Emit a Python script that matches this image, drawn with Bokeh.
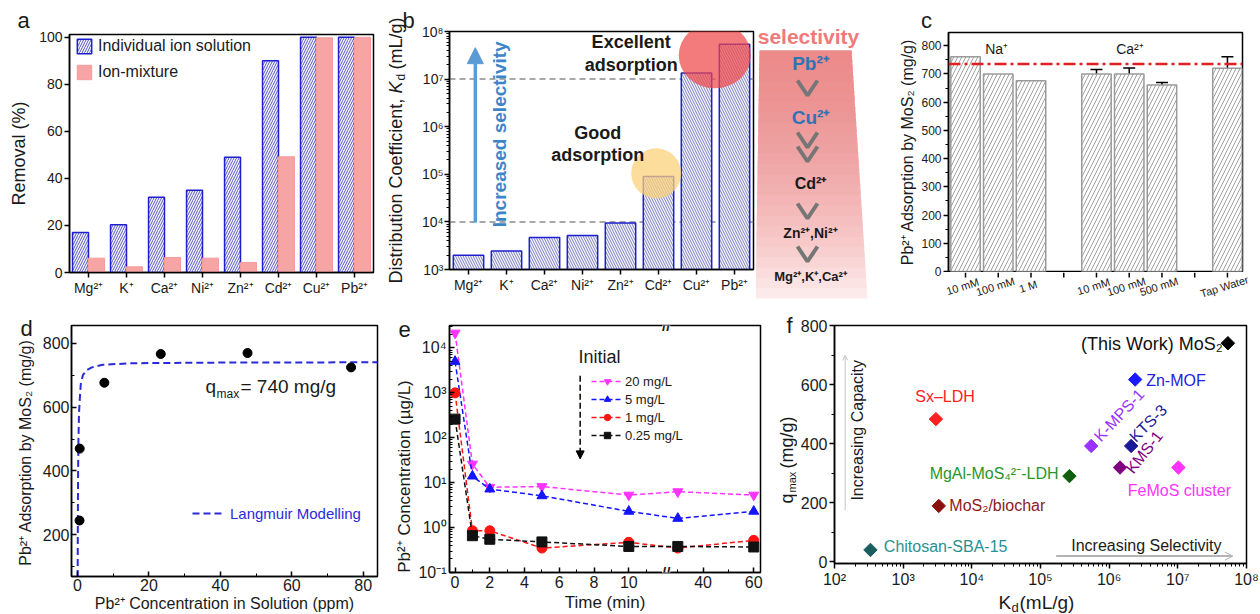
import math
from bokeh.plotting import figure
from bokeh.layouts import row, column
from bokeh.models import (ColumnDataSource, FactorRange, Range1d, FixedTicker, Legend,
                          LegendItem, Label, Span, Arrow, NormalHead, OpenHead,
                          Whisker, TeeHead)
from bokeh.transform import dodge
from bokeh.core.properties import value
from bokeh.embed import file_html
from bokeh.resources import INLINE

FONT = "Liberation Sans"
INK = "#1a1a1a"

# ===================== DATA =====================
# (a) removal efficiency
ions = ["Mg²⁺", "K⁺", "Ca²⁺", "Ni²⁺", "Zn²⁺", "Cd²⁺", "Cu²⁺", "Pb²⁺"]
removal_individual = [17, 20.3, 32, 35, 49, 90, 100, 100]
removal_mixture = [6.1, 2.4, 6.4, 6.1, 4.3, 49.2, 99.8, 100]
removal_ticks = [0, 20, 40, 60, 80, 100]
legend_a = ["Individual ion solution", "Ion-mixture"]

# (b) distribution coefficient
kd_values = [2000, 2460, 4700, 5200, 9500, 9.0e4, 1.35e7, 5.4e7]
kd_thresholds = [1e4, 1e7]
kd_decades = [3, 4, 5, 6, 7, 8]

# selectivity ladder
ladder_title = "selectivity"
ladder_labels = ["Pb²⁺", "Cu²⁺", "Cd²⁺", "Zn²⁺,Ni²⁺", "Mg²⁺,K⁺,Ca²⁺"]

# (c) competing salts
salt_slots_all = [1, 2, 3, 4, 5, 6, 7, 8, 9]
salt_slot = [1, 2, 3, 5, 6, 7, 9]
salt_labels = ["10 mM", "100 mM", "1 M", "10 mM", "100 mM", "500 mM", "Tap Water"]
salt_uptake = [761, 700, 676, 700, 700, 661, 720]
salt_err = [0, 0, 0, 16, 21, 9, 41]
salt_groups = ["Na⁺", "Ca²⁺"]
salt_ticks = [0, 100, 200, 300, 400, 500, 600, 700, 800]
qmax_line = 735

# (d) isotherm
ce_ppm = [0.55, 0.6, 7.5, 23.3, 47.6, 76.6]
qe_mg_g = [245, 470, 676, 766, 769, 724]
langmuir_ce = [0, 0.08, 0.15, 0.25, 0.4, 0.65, 0.9, 1.5, 2.5, 4, 7, 15, 40, 85]
langmuir_qe = [0, 250, 400, 500, 580, 630, 672, 700, 715, 724, 732, 737, 739, 740]

# (e) kinetics
time_min = [0, 1, 2, 5, 10, 30, 60]
initial_labels = ["20 mg/L", "5 mg/L", "1 mg/L", "0.25 mg/L"]
conc_20 = [21500, 26, 7.9, 8.2, 5.3, 6.3, 5.3]
conc_5 = [5000, 14, 7.2, 5.1, 2.3, 1.6, 2.3]
conc_1 = [1000, 0.85, 0.85, 0.35, 0.47, 0.35, 0.52]
conc_025 = [260, 0.66, 0.55, 0.48, 0.38, 0.38, 0.37]
time_ticks = [0, 2, 4, 6, 8, 10, 40, 60]
time_minor = [1, 3, 5, 7, 9, 11, 30, 50]
conc_decades = [-1, 0, 1, 2, 3, 4]

# (f) comparison
materials = ["(This Work) MoS₂", "Zn-MOF", "Sx–LDH", "K-MPS-1", "KTS-3", "KMS-1",
             "FeMoS cluster", "MgAl-MoS₄²⁻-LDH", "MoS₂/biochar", "Chitosan-SBA-15"]
kd_mat = [5.36e7, 2.39e6, 3.0e3, 5.47e5, 2.09e6, 1.44e6, 1.02e7, 2.64e5, 3.3e3, 334]
qmax_mat = [740, 617, 483, 392, 392, 319, 319, 290, 189, 40]
kd_axis_decades = [2, 3, 4, 5, 6, 7, 8]

SUP = {"-": "⁻", "0": "⁰", "1": "¹", "2": "²", "3": "³", "4": "⁴", "5": "⁵",
       "6": "⁶", "7": "⁷", "8": "⁸", "9": "⁹"}


def pow10_label(n):
    return "10" + "".join(SUP[c] for c in str(n))


# ===================== HELPERS =====================
def mk(width, height, left, right, top, bottom, **kw):
    return figure(width=width, height=height, output_backend="svg", toolbar_location=None,
                  title=None, frame_align=False, min_border_left=left, min_border_right=right,
                  min_border_top=top, min_border_bottom=bottom, **kw)


def strip(width, height, x_range=None, y_range=None):
    s = figure(width=width, height=height, output_backend="svg", toolbar_location=None,
               title=None, frame_align=False,
               x_range=x_range if x_range is not None else Range1d(0, width),
               y_range=y_range if y_range is not None else Range1d(height, 0),
               min_border_left=0, min_border_right=0, min_border_top=0, min_border_bottom=0,
               x_axis_location=None, y_axis_location=None)
    s.grid.visible = False
    s.outline_line_color = None
    s.background_fill_color = "white"
    s.border_fill_color = "white"
    return s


def style(p, tick_px, label_px, inward=False):
    p.grid.visible = False
    p.outline_line_color = "black"
    p.outline_line_width = 1.5
    p.background_fill_color = "white"
    p.border_fill_color = "white"
    for ax in p.axis:
        ax.axis_line_width = 1.5
        ax.axis_line_color = "black"
        ax.major_tick_line_width = 1.5
        ax.minor_tick_line_width = 1
        if inward:
            ax.major_tick_in, ax.major_tick_out = 5, 0
            ax.minor_tick_in, ax.minor_tick_out = 3, 0
        else:
            ax.major_tick_in, ax.major_tick_out = 0, 5
            ax.minor_tick_in, ax.minor_tick_out = 0, 3
        ax.major_label_text_font = FONT
        ax.major_label_text_font_size = f"{tick_px}px"
        ax.major_label_text_color = INK
        ax.axis_label_text_font = FONT
        ax.axis_label_text_font_size = f"{label_px}px"
        ax.axis_label_text_font_style = "normal"
        ax.axis_label_text_color = INK


def txt(p, x, y, text, size, color=INK, bold=False, italic=False, align="left",
        baseline="middle", angle=0.0, units="data", **kw):
    style_ = "bold" if bold else ("italic" if italic else "normal")
    p.add_layout(Label(x=x, y=y, x_units=units, y_units=units, text=text, text_font=FONT,
                       text_font_size=f"{size}px", text_color=color, text_font_style=style_,
                       text_align=align, text_baseline=baseline, angle=angle, **kw))


def legend_style(leg, size):
    leg.padding = 0
    leg.margin = 0
    leg.border_line_color = None
    leg.background_fill_alpha = 0
    leg.label_text_font = FONT
    leg.label_text_font_size = f"{size}px"
    leg.label_text_color = INK


UP = math.pi / 2

# ===================== (a) =====================
sa = strip(33, 300)
txt(sa, 23, 20, "a", 22, align="center")
txt(sa, 18, 153, "Removal (%)", 18, align="center", angle=UP)

pa = mk(347, 300, 36, 7, 34, 28, x_range=FactorRange(*ions), y_range=Range1d(0, 101.2))
src_a = ColumnDataSource(dict(ion=ions, ind=removal_individual, mix=removal_mixture))
ra1 = pa.vbar(x=dodge("ion", -0.21, range=pa.x_range), top="ind", width=0.42, source=src_a,
              fill_color="#f4f4fc", line_color="#1f1fd2", line_width=1.5,
              hatch_pattern="/", hatch_color="#5c5cc0", hatch_scale=5, hatch_weight=1)
ra2 = pa.vbar(x=dodge("ion", 0.21, range=pa.x_range), top="mix", width=0.42, source=src_a,
              fill_color="#f6a4a4", line_color="#f39a9a", line_width=1)
style(pa, 14, 18)
pa.x_range.range_padding = 0
pa.yaxis.ticker = FixedTicker(ticks=removal_ticks)
pa.yaxis.major_label_standoff = 2
pa.xaxis.major_label_standoff = 2
leg_a = Legend(items=[LegendItem(label=legend_a[0], renderers=[ra1]),
                      LegendItem(label=legend_a[1], renderers=[ra2])],
               location=(6, 191), glyph_width=18, glyph_height=18, label_height=18,
               spacing=8, label_standoff=5)
legend_style(leg_a, 16)
pa.add_layout(leg_a)

# ===================== (b) =====================
sb = strip(38, 300)
txt(sb, 28, 20, "b", 22, align="center")
txt(sb, 15, 283, "Distribution Coefficient,", 18, angle=UP)
txt(sb, 15, 93, "K", 18, italic=True, angle=UP)
txt(sb, 20, 80, "d", 12, angle=UP)
txt(sb, 15, 69, "(mL/g)", 18, angle=UP)

pb = mk(337, 300, 29, 2, 31, 31, x_range=FactorRange(*ions), y_range=Range1d(1e3, 1e8),
        y_axis_type="log")
pb.x_range.range_padding = 0
for t in kd_thresholds:
    pb.add_layout(Span(location=t, dimension="width", line_color="#8c8c8c", line_width=1.5,
                       line_dash="6 4", level="underlay"))
src_b = ColumnDataSource(dict(ion=ions, kd=kd_values))
pb.vbar(x="ion", top="kd", bottom=1e3, width=0.8, source=src_b, fill_color="#f5f5fc",
        line_color="#1f1fd2", line_width=1.5, hatch_pattern="\\", hatch_color="#8080c0",
        hatch_scale=5, hatch_weight=1)
pb.ellipse(x=[6.98], y=[10 ** 7.5], width=72, height=66, width_units="screen",
           height_units="screen", fill_color="#f04848", fill_alpha=0.72, line_color=None)
pb.ellipse(x=[5.44], y=[10 ** 5.02], width=50, height=50, width_units="screen",
           height_units="screen", fill_color="#fbd27a", fill_alpha=0.75, line_color=None)
style(pb, 14, 18)
pb.yaxis.ticker = FixedTicker(ticks=[10.0 ** d for d in kd_decades],
                              minor_ticks=[m * 10.0 ** d for d in kd_decades[:-1] for m in range(2, 10)])
pb.yaxis.major_label_overrides = {10.0 ** d: pow10_label(d) for d in kd_decades}
pb.yaxis.major_label_standoff = 1
pb.xaxis.major_label_standoff = 2
pb.add_layout(Arrow(x_start=0.68, y_start=10 ** 3.99, x_end=0.68, y_end=10 ** 7.66,
                    line_color="#5b9bd5", line_width=3.5,
                    end=NormalHead(size=16, fill_color="#5b9bd5", line_color="#5b9bd5")))
txt(pb, 1.31, 10 ** 5.84, "Increased selectivity", 19, color="#3d85c6", bold=True,
    align="center", angle=UP)
txt(pb, 4.78, 10 ** 7.78, "Excellent", 18, bold=True, align="center")
txt(pb, 4.78, 10 ** 7.30, "adsorption", 18, bold=True, align="center")
txt(pb, 3.9, 10 ** 5.87, "Good", 18, bold=True, align="center")
txt(pb, 3.9, 10 ** 5.40, "adsorption", 18, bold=True, align="center")

# ===================== selectivity ladder =====================
pfun = strip(115, 300, x_range=Range1d(755, 870))
FT, FB = 50, 298                          # funnel top / bottom
FLT, FLB, FRT, FRB = 759, 755, 851, 867   # left/right edges at top and bottom
pfun.patch([FLT, FRT, FRB, FLB], [FT, FT, FB, FB], fill_color="#fdf2f2", line_color=None)
N = 24
gx, gy = [], []
for k in range(1, N + 1):
    f = k / N
    yb = FT + (FB - FT) * f
    gx.append([FLT, FRT, FRT + (FRB - FRT) * f, FLT + (FLB - FLT) * f])
    gy.append([FT, FT, yb, yb])
pfun.patches(gx, gy, fill_color="#ee7070", fill_alpha=0.055, line_color=None)
chev_tops = [80, 132, 146, 203, 246]
pfun.multi_line([[797, 807, 817] for _ in chev_tops], [[t, t + 15, t] for t in chev_tops],
                line_color="#767676", line_width=4)
txt(pfun, 808, 36, ladder_title, 21, color="#f07a7a", bold=True, align="center")
ladder_y = [63, 117, 183, 232, 276]
ladder_size = [19, 19, 16, 14, 13]
ladder_col = ["#2e74b5", "#2e74b5", INK, INK, INK]
for lab, yy, s, c in zip(ladder_labels, ladder_y, ladder_size, ladder_col):
    txt(pfun, 810, yy, lab, s, color=c, bold=True, align="center")

# ===================== (c) =====================
C_LO, C_HI, C_TOP = 0.48, 9.46, 847
C_STRIP, C_W, C_H, C_FULL = 73, 390, 272, 300
C_L, C_R, C_T, C_B = 5, 18, 32, 1
pc = mk(C_W - C_STRIP, C_H, C_L, C_R, C_T, C_B, x_range=Range1d(C_LO, C_HI),
        y_range=Range1d(0, C_TOP), x_axis_location=None)
src_c = ColumnDataSource(dict(x=salt_slot, top=salt_uptake, lab=salt_labels))
pc.vbar(x="x", top="top", width=0.9, source=src_c, fill_color="white", line_color="#9a9a9a",
        line_width=1.5, hatch_pattern="/", hatch_color="#8a8a8a", hatch_scale=8, hatch_weight=0.8)
err_x = [x for x, e in zip(salt_slot, salt_err) if e > 0]
err_up = [v + e for v, e in zip(salt_uptake, salt_err) if e > 0]
err_lo = [v - e for v, e in zip(salt_uptake, salt_err) if e > 0]
src_err = ColumnDataSource(dict(x=err_x, up=err_up, lo=err_lo))
pc.add_layout(Whisker(source=src_err, base="x", upper="up", lower="lo", line_color="black",
                      line_width=1.5, upper_head=TeeHead(size=12, line_width=1.5),
                      lower_head=TeeHead(size=12, line_width=1.5)))
pc.add_layout(Span(location=qmax_line, dimension="width", line_color="#e02020", line_width=2.5,
                   line_dash="12 4 3 4"))
style(pc, 12, 16)
pc.yaxis.ticker = FixedTicker(ticks=salt_ticks, minor_ticks=list(range(50, 850, 100)))
pc.yaxis.major_label_overrides = {t: "" for t in salt_ticks}
pc.yaxis.major_label_text_font_size = "0px"
pc.yaxis.major_label_standoff = 0
txt(pc, 1.6, 790, salt_groups[0], 14)
txt(pc, 5.6, 790, salt_groups[1], 14)
# left strip (full height) sharing the y mapping of pc: tick labels, axis title, letter
ppy = C_TOP / (C_H - C_T - C_B)
below = C_FULL - (C_H - C_B)
scl = strip(C_STRIP, C_FULL, y_range=Range1d(-below * ppy, C_TOP + C_T * ppy))
scl.text(x=[C_STRIP - 2] * len(salt_ticks), y=salt_ticks, text=[str(t) for t in salt_ticks],
         text_align="right", text_baseline="middle", text_font=value(FONT),
         text_font_size="12px", text_color=INK)
txt(scl, 37, C_TOP / 2, "Pb²⁺ Adsorption by MoS₂ (mg/g)", 16, align="center", angle=UP)
txt(scl, 56, C_TOP + 12 * ppy, "c", 22, align="center")
# x ticks and rotated category labels below pc (same x mapping as pc)
ppx = (C_HI - C_LO) / (C_W - C_STRIP - C_L - C_R)
sc = strip(C_W - C_STRIP, C_FULL - C_H, x_range=Range1d(C_LO - C_L * ppx, C_HI + C_R * ppx))
sc.segment(x0=salt_slots_all, y0=[0] * 9, x1=salt_slots_all, y1=[5] * 9,
           line_color="black", line_width=1.5)
sc.text(x=salt_slot, y=[14] * len(salt_slot), text=salt_labels, angle=0.3,
        text_align="center", text_baseline="middle", x_offset=-3,
        text_font=value(FONT), text_font_size="11px", text_color=INK)

# ===================== (d) =====================
sd = strip(36, 314)
txt(sd, 26, 28, "d", 22, align="center")
txt(sd, 25, 152, "Pb²⁺ Adsorption by MoS₂ (mg/g)", 16, align="center", angle=UP)

pdd = mk(354, 314, 35, 13, 25, 37, x_range=Range1d(-1.7, 84), y_range=Range1d(70, 855))
rl = pdd.line(langmuir_ce, langmuir_qe, line_color="#2a2ad8", line_width=2, line_dash="7 4")
pdd.scatter(ce_ppm, qe_mg_g, size=9, color="black")
style(pdd, 16, 16, inward=True)
pdd.xaxis.ticker = FixedTicker(ticks=[0, 20, 40, 60, 80], minor_ticks=[10, 30, 50, 70])
pdd.yaxis.ticker = FixedTicker(ticks=[200, 400, 600, 800], minor_ticks=[100, 300, 500, 700])
pdd.xaxis.axis_label = "Pb²⁺ Concentration in Solution (ppm)"
for ax in pdd.axis:
    ax.major_label_standoff = 2
    ax.axis_label_standoff = 1
leg_d = Legend(items=[LegendItem(label="Langmuir Modelling", renderers=[rl])],
               location=(121, 54), glyph_width=30, glyph_height=18, label_height=18,
               label_standoff=8)
legend_style(leg_d, 15)
leg_d.label_text_color = "#2a2ad8"
pdd.add_layout(leg_d)
txt(pdd, 134, 190, "q", 19, units="screen")
txt(pdd, 145, 183, "max", 12, units="screen")
txt(pdd, 169, 190, "= 740 mg/g", 19, units="screen")

# ===================== (e) =====================
BREAK_AT, RESUME_AT, RIGHT_SCALE = 12.15, 25.4, 0.1457


def tmap(t):
    return t if t <= BREAK_AT else BREAK_AT + (t - RESUME_AT) * RIGHT_SCALE


se = strip(25, 314)
txt(se, 14, 29, "e", 22, align="center")
txt(se, 14, 176, "Pb²⁺ Concentration (µg/L)", 17, align="center", angle=UP)

pe = mk(360, 314, 32, 15, 25, 42, x_range=Range1d(-0.32, 17.58),
        y_range=Range1d(0.1, 10 ** 4.5), y_axis_type="log")
tx = [tmap(t) for t in time_min]
series = [(initial_labels[0], conc_20, "#ff33ff", "inverted_triangle"),
          (initial_labels[1], conc_5, "#1414ff", "triangle"),
          (initial_labels[2], conc_1, "#ff1414", "circle"),
          (initial_labels[3], conc_025, "#111111", "square")]
items_e = []
for lab, ys, col, mkr in series:
    l = pe.line(tx, ys, line_color=col, line_width=1.5, line_dash="5 3")
    s = pe.scatter(tx, ys, marker=mkr, size=10, color=col)
    items_e.append(LegendItem(label=lab, renderers=[l, s]))
style(pe, 16, 17, inward=True)
pe.xaxis.ticker = FixedTicker(ticks=[tmap(t) for t in time_ticks],
                              minor_ticks=[tmap(t) for t in time_minor])
pe.xaxis.major_label_overrides = {tmap(t): str(t) for t in time_ticks}
pe.yaxis.ticker = FixedTicker(ticks=[10.0 ** d for d in conc_decades],
                              minor_ticks=[m * 10.0 ** d for d in conc_decades for m in range(2, 10)])
pe.yaxis.major_label_overrides = {10.0 ** d: pow10_label(d) for d in conc_decades}
pe.xaxis.axis_label = "Time (min)"
for ax in pe.axis:
    ax.major_label_standoff = 3
    ax.axis_label_standoff = 2
leg_e = Legend(items=items_e, location=(142, 129), glyph_width=32, glyph_height=16,
               label_height=16, spacing=2, label_standoff=2)
legend_style(leg_e, 13)
pe.add_layout(leg_e)
txt(pe, 7.1, 10 ** 3.79, "Initial", 18)
pe.add_layout(Arrow(x_start=7.2, y_start=10 ** 3.38, x_end=7.2, y_end=10 ** 1.53,
                    line_color="black", line_width=1.5, line_dash="6 3",
                    end=NormalHead(size=8, fill_color="black", line_color="black")))
for yy in (10 ** 4.5, 0.1):
    txt(pe, BREAK_AT, yy, "//", 15, bold=True, align="center", background_fill_color="white")

# ===================== (f) =====================
sf = strip(22, 314)
txt(sf, 14, 25, "f", 22, align="center")
txt(sf, 11, 203, "q", 18, angle=UP)
txt(sf, 16, 192, "max", 11, angle=UP)
txt(sf, 11, 168, "(mg/g)", 18, angle=UP)

pf = mk(463, 290, 36, 14, 25, 27, x_range=Range1d(1e2, 1e8), y_range=Range1d(-6, 800),
        x_axis_type="log")
mat_colors = ["#000000", "#1a1aff", "#ff2020", "#9933ff", "#1a1a99", "#800080", "#ff33ff",
              "#0f5f0f", "#8b1010", "#1a5e5e"]
label_colors = ["#111111", "#2222dd", "#ff2222", "#9933ff", "#1a1a99", "#800080", "#ff33ff",
                "#2a962a", "#8b1a1a", "#2a9090"]
pf.scatter(kd_mat, qmax_mat, marker="square", angle=math.pi / 4, size=9.5, color=mat_colors)
# label placement (x, y, align, angle_deg, size)
f_label_pos = [(4.5e7, 738, "right", 0, 18), (3.46e6, 614, "left", 0, 16),
               (1.5e3, 561, "left", 0, 16), (1.4e6, 496, "center", 47, 16),
               (3.7e6, 469, "center", 45, 16), (3.24e6, 371, "center", 52, 16),
               (1.87e6, 242, "left", 0, 16), (1.83e5, 299, "right", 0, 16),
               (4.7e3, 189, "left", 0, 16), (523, 51, "left", 0, 16)]
for name, col, (lx, ly, al, ang, sz) in zip(materials, label_colors, f_label_pos):
    txt(pf, lx, ly, name, sz, color=col, align=al, angle=ang, angle_units="deg")
txt(pf, 2.8e5, 54, "Increasing Selectivity", 16)
pf.add_layout(Arrow(x_start=1.69e5, y_start=19, x_end=6.34e7, y_end=19, line_color="#b4b4b4",
                    line_width=2, end=OpenHead(size=8, line_color="#b4b4b4", line_width=1)))
txt(pf, 219, 445, "Increasing Capacity", 16, align="center", angle=UP)
pf.add_layout(Arrow(x_start=143, y_start=175, x_end=143, y_end=699, line_color="#c4c4c4",
                    line_width=1, end=OpenHead(size=5, line_color="#c4c4c4", line_width=1)))
style(pf, 16, 18)
pf.xaxis.ticker = FixedTicker(ticks=[10.0 ** d for d in kd_axis_decades],
                              minor_ticks=[m * 10.0 ** d for d in kd_axis_decades[:-1] for m in range(2, 10)])
pf.xaxis.major_label_overrides = {10.0 ** d: pow10_label(d) for d in kd_axis_decades}
pf.yaxis.ticker = FixedTicker(ticks=[0, 200, 400, 600, 800], minor_ticks=[100, 300, 500, 700])
pf.yaxis.major_label_standoff = 2
pf.xaxis.major_label_standoff = 2
sfx = strip(463, 24)
txt(sfx, 201, 12, "K", 19)
txt(sfx, 214, 17, "d", 13)
txt(sfx, 222, 12, "(mL/g)", 19)

top = row(sa, pa, sb, pb, pfun, scl, column(pc, sc, spacing=0), spacing=0)
bottom = row(sd, pdd, se, pe, sf, column(pf, sfx, spacing=0), spacing=0)
layout = column(top, bottom, spacing=0)
open("out.html", "w").write(file_html(layout, INLINE))
